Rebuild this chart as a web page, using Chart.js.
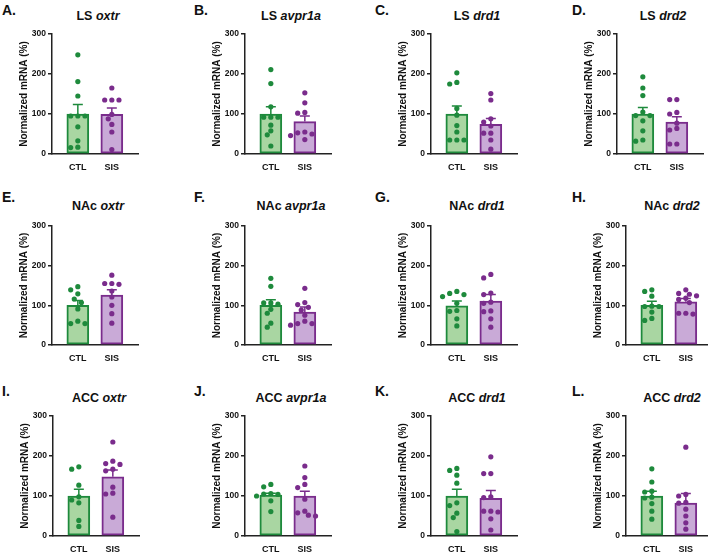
<!DOCTYPE html>
<html>
<head>
<meta charset="utf-8">
<script src="https://cdn.jsdelivr.net/npm/chart.js@4.4.1/dist/chart.umd.min.js"></script>
<style>
  html, body { margin: 0; padding: 0; background: #fff; }
  #fig { position: relative; width: 708px; height: 552px; overflow: hidden;
         font-family: Arial, "Liberation Sans", sans-serif; color: #111; }
  .letter { position: absolute; font-weight: bold; font-size: 14px; line-height: 14px; }
  .title { position: absolute; font-weight: bold; font-size: 12.5px; line-height: 12px;
           width: 130px; text-align: center; white-space: nowrap; }
  canvas { position: absolute; }
</style>
</head>
<body>
<div id="fig"></div>
<script>
// ---- data ----
const groups = ["CTL", "SIS"];
const regions = ["LS", "LS", "LS", "LS", "NAc", "NAc", "NAc", "NAc", "ACC", "ACC", "ACC", "ACC"];
const genes = ["oxtr", "avpr1a", "drd1", "drd2", "oxtr", "avpr1a", "drd1", "drd2", "oxtr", "avpr1a", "drd1", "drd2"];
const letters = ["A.", "B.", "C.", "D.", "E.", "F.", "G.", "H.", "I.", "J.", "K.", "L."];
const yTicks = [0, 100, 200, 300];

const ctlMean = [100, 100, 100, 100, 100, 100, 99, 100, 100, 102, 100, 100];
const ctlSem  = [24, 18, 20, 16, 12, 14, 12, 10, 17, 5, 17, 12];
const sisMean = [99, 81, 74, 80, 126, 83, 111, 109, 148, 100, 94, 82];
const sisSem  = [16, 14, 15, 13, 13, 13, 16, 8, 17, 12, 20, 24];

const ctlPoints = [
  [248, 181, 145, 95, 95, 95, 68, 33, 17, 16],
  [211, 176, 118, 92, 92, 92, 72, 58, 48, 20],
  [203, 179, 175, 114, 97, 71, 55, 35, 35, 35],
  [193, 165, 146, 105, 96, 96, 83, 58, 35, 32],
  [147, 139, 129, 116, 107, 91, 60, 54, 54],
  [168, 148, 106, 106, 103, 90, 80, 55, 45],
  [135, 130, 127, 122, 105, 87, 85, 66, 48],
  [139, 135, 123, 98, 97, 97, 83, 67, 62],
  [173, 167, 127, 98, 90, 83, 39, 24],
  [129, 123, 106, 105, 104, 100, 88, 61],
  [169, 164, 152, 132, 83, 76, 57, 46, 11],
  [168, 135, 112, 110, 97, 95, 81, 62, 42]
];
const sisPoints = [
  [165, 135, 135, 135, 99, 88, 74, 55, 11],
  [153, 128, 104, 102, 55, 53, 50, 46, 36],
  [151, 135, 88, 80, 70, 52, 52, 35, 12],
  [136, 136, 104, 100, 77, 64, 60, 25, 25],
  [176, 155, 155, 153, 136, 121, 100, 79, 55],
  [143, 107, 102, 95, 88, 75, 60, 54, 54, 50],
  [178, 169, 131, 127, 108, 105, 86, 84, 66, 45],
  [139, 130, 128, 124, 118, 115, 107, 80, 80, 78],
  [235, 187, 181, 179, 167, 163, 122, 107, 105, 47],
  [175, 146, 129, 121, 92, 62, 58, 52, 50],
  [198, 156, 156, 98, 96, 62, 62, 60, 43, 15],
  [222, 104, 100, 84, 82, 67, 50, 33, 17]
];

// ---- layout / style ----
const axisX = [52, 245, 431, 617, 52, 245, 431, 626, 53, 245, 431, 626];
const rowTop = [34, 226, 416];
const rowBottom = [154, 345, 536];
const letterX = [2, 194, 375, 572];
const letterTop = [3, 190, 384];
const titleTop = [10, 200, 392];
const plotW = 86, yAxisW = 44, xAxisH = 26, padTop = 8, padRight = 4;
const xMin = -0.76, xMax = 1.77;

const FILL = ["#a9d6a2", "#c9aad7"];
const LINE = ["#1e8a3c", "#7a2c8c"];
const FONT = 'Arial, "Liberation Sans", sans-serif';

// spread points sideways so they don't sit on top of each other
function swarm(vals, pxPerX, pxPerY) {
  const order = vals.map((_, i) => i).sort((a, b) => vals[b] - vals[a]);
  const placed = [];
  const offs = new Array(vals.length).fill(0);
  const cands = [0, -0.5, 0.5, -1, 1, -1.5, 1.5, -2, 2];
  for (const i of order) {
    let dx = 0;
    for (const c of cands) {
      const d = c * 0.21;
      const ok = placed.every(p => Math.hypot((p.dx - d) * pxPerX, (p.v - vals[i]) * pxPerY) >= 5.2);
      if (ok) { dx = d; break; }
    }
    offs[i] = dx;
    placed.push({ dx, v: vals[i] });
  }
  return offs;
}

const errorBars = {
  id: "errorBars",
  afterDatasetDraw(chart, args, opts) {
    if (args.index !== 0) return;
    const { ctx } = chart;
    const y = chart.scales.y;
    ctx.save();
    ctx.lineWidth = 1.5;
    args.meta.data.forEach((bar, i) => {
      const yM = y.getPixelForValue(opts.mean[i]);
      const yT = y.getPixelForValue(opts.mean[i] + opts.sem[i]);
      ctx.strokeStyle = LINE[i];
      ctx.beginPath();
      ctx.moveTo(bar.x, yM); ctx.lineTo(bar.x, yT);
      ctx.moveTo(bar.x - 5, yT); ctx.lineTo(bar.x + 5, yT);
      ctx.stroke();
    });
    ctx.restore();
  }
};

const fig = document.getElementById("fig");

function makePanel(k) {
  const row = Math.floor(k / 4), col = k % 4;
  const T = rowTop[row], B = rowBottom[row];

  const lt = document.createElement("div");
  lt.className = "letter";
  lt.style.left = letterX[col] + "px";
  lt.style.top = letterTop[row] + "px";
  lt.textContent = letters[k];
  fig.appendChild(lt);

  const tt = document.createElement("div");
  tt.className = "title";
  tt.style.left = (axisX[k] + 46 - 65) + "px";
  tt.style.top = titleTop[row] + "px";
  tt.innerHTML = regions[k] + " <i>" + genes[k] + "</i>";
  fig.appendChild(tt);

  const cv = document.createElement("canvas");
  const w = yAxisW + plotW + padRight, h = padTop + (B - T) + xAxisH;
  cv.width = w; cv.height = h;
  cv.style.width = w + "px"; cv.style.height = h + "px";
  cv.style.left = (axisX[k] - yAxisW) + "px";
  cv.style.top = (T - padTop) + "px";
  fig.appendChild(cv);

  const pxPerX = plotW / (xMax - xMin), pxPerY = (B - T) / 300;
  const series = [ctlPoints[k], sisPoints[k]];
  const pts = series.map((vals, g) => {
    const offs = swarm(vals, pxPerX, pxPerY);
    return vals.map((v, i) => ({ x: g + offs[i], y: v }));
  });

  new Chart(cv.getContext("2d"), {
    type: "bar",
    data: {
      datasets: [
        {
          type: "bar",
          order: 3,
          data: [{ x: 0, y: ctlMean[k] }, { x: 1, y: sisMean[k] }],
          backgroundColor: FILL,
          borderColor: LINE,
          borderWidth: 2,
          borderSkipped: false,
          barThickness: 22
        },
        { type: "scatter", order: 1, data: pts[0], backgroundColor: LINE[0], pointRadius: 2.6, borderWidth: 0 },
        { type: "scatter", order: 2, data: pts[1], backgroundColor: LINE[1], pointRadius: 2.6, borderWidth: 0 }
      ]
    },
    options: {
      responsive: false,
      maintainAspectRatio: false,
      animation: false,
      events: [],
      layout: { padding: { top: padTop, right: padRight, left: 0, bottom: 0 } },
      plugins: {
        legend: { display: false },
        tooltip: { enabled: false },
        errorBars: { mean: [ctlMean[k], sisMean[k]], sem: [ctlSem[k], sisSem[k]] }
      },
      scales: {
        x: {
          type: "linear",
          offset: false,
          min: xMin, max: xMax,
          afterBuildTicks: s => { s.ticks = groups.map((_, i) => ({ value: i })); },
          afterFit: s => { s.height = xAxisH; },
          ticks: {
            autoSkip: false, maxRotation: 0, padding: 8, color: "#111",
            font: { family: FONT, size: 9, weight: "bold" },
            callback: v => groups[v] ?? ""
          },
          grid: { display: false, drawTicks: false },
          border: { display: true, color: "#222", width: 1.5 }
        },
        y: {
          min: 0, max: 300,
          afterBuildTicks: s => { s.ticks = yTicks.map(v => ({ value: v })); },
          afterFit: s => { s.width = yAxisW; },
          ticks: { padding: 2, color: "#111", font: { family: FONT, size: 8.5, weight: "bold" } },
          grid: { drawOnChartArea: false, drawTicks: true, tickLength: 4, color: "#222", lineWidth: 1.5 },
          border: { display: true, color: "#222", width: 1.5 },
          title: {
            display: true, text: "Normalized mRNA (%)", color: "#111",
            font: { family: FONT, size: 10, weight: "bold" },
            padding: { top: 10, bottom: 0 }
          }
        }
      }
    },
    plugins: [errorBars]
  });
}

for (let k = 0; k < 12; k++) makePanel(k);
</script>
</body>
</html>
